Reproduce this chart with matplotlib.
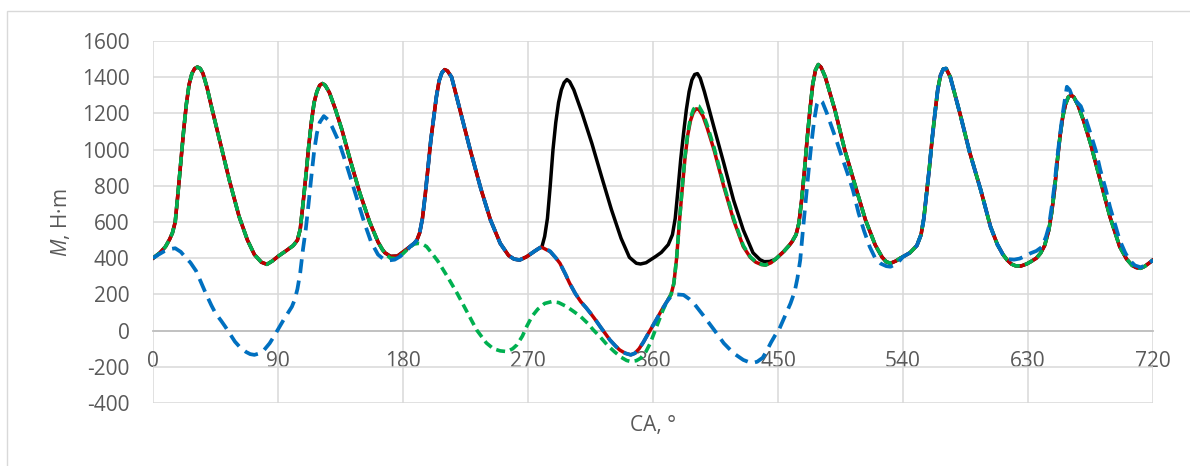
import numpy as np
import matplotlib.pyplot as plt
from matplotlib.patches import Rectangle

plt.rcParams['font.family'] = ['Open Sans', 'DejaVu Sans']
plt.rcParams['mathtext.fontset'] = 'custom'
plt.rcParams['mathtext.it'] = 'Open Sans:italic'
plt.rcParams['mathtext.rm'] = 'Open Sans'
plt.rcParams['lines.scale_dashes'] = False
plt.rcParams['axes.unicode_minus'] = False

# (crank angle, torque) pieces; several curves share pieces
seg_a = [(0, 400), (5, 430), (9, 464), (12, 505), (14, 540), (16, 600), (18, 760), (20, 930),
         (22, 1100), (24, 1250), (26, 1360), (28, 1420), (30, 1448), (32, 1456), (34, 1448),
         (36, 1420), (39, 1340), (42, 1240), (48, 1050), (55, 830), (62, 630), (68, 500),
         (73, 420), (78, 378), (82, 366), (86, 385), (90, 410), (96, 442), (101, 470),
         (104, 500), (106, 560), (108, 700), (110, 850), (112, 1010), (114, 1150), (116, 1260),
         (118, 1320), (120, 1355), (122, 1365), (124, 1355), (127, 1315), (131, 1230),
         (136, 1110), (142, 942), (149, 758), (156, 600), (162, 490), (165, 450)]
seg_b = [(167, 430), (171, 410), (176, 412), (181, 440), (186, 470)]
seg_c = [(188, 482), (190, 500), (192, 540), (194, 620), (196, 750), (198, 900), (200, 1050),
         (202, 1170), (204, 1290), (206, 1380), (208, 1425), (210, 1442), (212, 1435),
         (215, 1400), (220, 1250), (228, 1010), (236, 785), (243, 611), (250, 482), (256, 415),
         (260, 395), (264, 390), (269, 408), (275, 440), (278, 455)]
seg_d = [(460, 490), (463, 530), (465, 592), (467, 720), (469, 880), (471, 1060), (473, 1220),
         (475, 1360), (477, 1440), (479, 1470), (481, 1455), (484, 1402), (491, 1218),
         (498, 1000), (506, 790), (513, 611), (520, 473), (525, 405), (528, 380), (531, 372),
         (535, 385), (538, 400)]
seg_e = [(540, 408), (545, 430), (550, 470), (553, 530), (555, 620), (557, 760), (559, 900),
         (561, 1060), (563, 1200), (565, 1330), (567, 1410), (569, 1445), (571, 1448),
         (574, 1402), (581, 1200), (588, 985), (596, 776), (603, 574), (608, 475), (612, 420)]
seg_f = [(615, 390), (618, 368), (621, 358), (625, 357), (629, 368), (632, 381), (636, 400),
         (639, 427), (642, 470), (645, 556), (647, 650), (649, 770), (651, 930), (653, 1070),
         (655, 1180), (657, 1250), (659, 1290), (661, 1301), (663, 1290), (666, 1245),
         (670, 1160), (675, 1034), (682, 832), (689, 629), (696, 464), (701, 395), (705, 360),
         (708, 348), (711, 344), (714, 355), (717, 372), (720, 390)]

black_mid = [(280, 462), (282, 520), (284, 620), (286, 800), (288, 1000), (290, 1150),
             (292, 1260), (294, 1330), (296, 1370), (298, 1387), (300, 1375), (303, 1330),
             (309, 1200), (316, 1034), (323, 850), (330, 670), (337, 510), (343, 405),
             (348, 372), (351, 368), (355, 375), (358, 390), (362, 410), (366, 432), (371, 475),
             (374, 530), (376, 620), (378, 780), (380, 950), (382, 1090), (384, 1220),
             (386, 1320), (388, 1385), (390, 1415), (392, 1420), (394, 1395), (397, 1320),
             (404, 1120), (411, 924), (418, 721), (425, 556), (432, 430), (437, 392), (440, 381),
             (444, 382), (448, 393), (454, 436), (458, 470)]
red_mid = [(280, 460), (283, 448), (286, 436), (290, 402), (293, 372), (297, 310), (300, 261),
           (304, 205), (308, 160), (312, 125), (315, 96), (319, 55), (322, 22), (326, -20),
           (329, -52), (333, -85), (336, -107), (340, -125), (344, -134), (347, -125),
           (350, -100), (353, -65), (356, -24), (359, 15), (362, 55), (366, 110), (370, 160),
           (373, 200), (375, 260), (377, 400), (379, 600), (381, 780), (383, 950), (385, 1080),
           (387, 1160), (389, 1205), (391, 1225), (393, 1222), (396, 1185), (399, 1120),
           (404, 997), (411, 795), (418, 611), (425, 464), (430, 405), (434, 378), (438, 365),
           (441, 362), (445, 375), (449, 400), (454, 436), (458, 470)]
green_mid = [(167, 425), (171, 400), (175, 398), (180, 425), (184, 455), (188, 478), (191, 482),
             (194, 478), (197, 464), (201, 425), (205, 385), (212, 298), (219, 206), (226, 105),
             (233, 4), (240, -68), (245, -100), (250, -112), (255, -116), (259, -100),
             (262, -79), (266, -30), (269, 22), (273, 80), (277, 118), (282, 150), (287, 160),
             (292, 155), (298, 132), (303, 105), (308, 77), (313, 40), (317, 4), (322, -35),
             (327, -79), (332, -115), (337, -147), (341, -165), (344, -171), (348, -166),
             (351, -153), (355, -115), (358, -70), (361, -10), (364, 50), (367, 110), (370, 160),
             (373, 200), (375, 260), (377, 400), (379, 600), (381, 790), (383, 960), (385, 1090),
             (387, 1175), (389, 1220), (391, 1243), (393, 1240), (396, 1200), (399, 1135),
             (404, 1010), (411, 805), (418, 620), (425, 470), (430, 408), (434, 380), (438, 366),
             (441, 362), (445, 375), (449, 400), (454, 436), (458, 470)]
blue_start = [(0, 400), (4, 420), (8, 438), (12, 450), (16, 455), (20, 435), (23, 408), (27, 375),
              (31, 330), (35, 260), (38, 206), (42, 140), (45, 96), (49, 55), (52, 22), (56, -25),
              (59, -61), (63, -95), (67, -118), (70, -130), (73, -134), (77, -125), (80, -107),
              (84, -70), (87, -33), (91, 20), (94, 59), (97, 95), (100, 132), (102, 170),
              (104, 230), (106, 320), (108, 450), (110, 560), (112, 700), (114, 850), (116, 990),
              (118, 1090), (120, 1150), (123, 1185), (126, 1165), (129, 1125), (134, 1040),
              (140, 900), (146, 750), (152, 600), (157, 490), (162, 420), (166, 395), (170, 388),
              (174, 392), (178, 410), (182, 438), (186, 470)]
blue_mid = [(280, 465), (283, 452), (286, 438), (290, 402), (293, 372), (297, 312), (300, 262),
            (304, 206), (308, 160), (312, 125), (315, 96), (319, 55), (322, 22), (326, -20),
            (329, -52), (333, -85), (336, -107), (340, -125), (344, -134), (347, -125),
            (350, -100), (353, -65), (356, -24), (359, 15), (362, 55), (366, 110), (370, 160),
            (373, 190), (377, 200), (382, 197), (386, 175), (390, 145), (396, 86), (400, 45),
            (404, 4), (411, -70), (418, -125), (425, -162), (431, -180), (435, -172),
            (439, -150), (442, -110), (445, -65), (448, -25), (451, 10), (455, 80), (459, 150),
            (462, 215), (464, 290), (466, 390), (468, 560), (470, 720), (472, 880), (474, 1030),
            (476, 1160), (478, 1250), (480, 1275), (482, 1262), (485, 1205), (488, 1140),
            (492, 1052), (496, 960), (500, 870), (504, 775), (508, 650), (512, 550), (516, 464),
            (520, 400), (524, 370), (528, 356), (531, 353), (535, 368), (538, 390)]
blue_end = [(615, 395), (620, 392), (624, 398), (628, 412), (632, 428), (636, 440), (640, 462),
            (643, 520), (645, 574), (647, 680), (649, 800), (651, 950), (653, 1080), (655, 1200),
            (657, 1300), (658, 1347), (660, 1330), (662, 1290), (665, 1265), (668, 1240),
            (672, 1160), (675, 1089), (679, 990), (682, 890), (686, 780), (689, 684), (693, 580),
            (696, 500), (700, 430), (703, 390), (707, 360), (711, 350), (714, 358), (717, 372),
            (720, 390)]

x_ticks = list(range(0, 721, 90))
y_ticks = list(range(-400, 1601, 200))


def join(*parts):
    arr = np.array([p for part in parts for p in part], dtype=float)
    return arr[:, 0], arr[:, 1]


fig = plt.figure(figsize=(11.9, 4.66), dpi=100)
ax = fig.add_axes([153 / 1190, 1 - 403 / 466, 1000 / 1190, 362 / 466])

# outer chart-area frame
fig.add_artist(Rectangle((7 / 1190, -0.05), 2, 1 - 11 / 466 + 0.05, transform=fig.transFigure,
                         fill=False, ec='#d9d9d9', lw=1.0))

x, y = join(seg_a, seg_b, seg_c, black_mid, seg_d, seg_e, seg_f)
ax.plot(x, y, color='black', lw=2.5, zorder=3)
x, y = join(seg_a, seg_b, seg_c, red_mid, seg_d, seg_e, seg_f)
ax.plot(x, y, color='#c00000', lw=2.5, zorder=4)
x, y = join(seg_a, green_mid, seg_d, seg_e, seg_f)
ax.plot(x, y, color='#00b050', lw=2.6, dashes=(6.5, 3.8), zorder=5)
x, y = join(blue_start, seg_c, blue_mid, seg_e, blue_end)
ax.plot(x, y, color='#0070c0', lw=2.7, dashes=(10, 5.5), zorder=6)

ax.set_xlim(0, 720)
ax.set_ylim(-400, 1600)
ax.set_xticks(x_ticks)
ax.set_yticks(y_ticks)
ax.grid(color='#d9d9d9', lw=1.1)
ax.set_axisbelow(True)
for s in ['top', 'left', 'right']:
    ax.spines[s].set_visible(False)
ax.spines['bottom'].set_position(('data', 0))
ax.spines['bottom'].set_color('#bfbfbf')
ax.spines['bottom'].set_linewidth(1.3)
ax.tick_params(length=0, labelsize=15, colors='#595959')
ax.tick_params(axis='x', pad=15)
ax.tick_params(axis='y', pad=17)

fig.text(60 / 1190, 1 - 223 / 466, r'$\mathit{M}$, Н·m', rotation=90, ha='center', va='center',
         fontsize=15, color='#595959')
fig.text(653 / 1190, 1 - 425 / 466, 'CA, °', ha='center', va='center', fontsize=15, color='#595959')

fig.savefig('out.png', dpi=100)
